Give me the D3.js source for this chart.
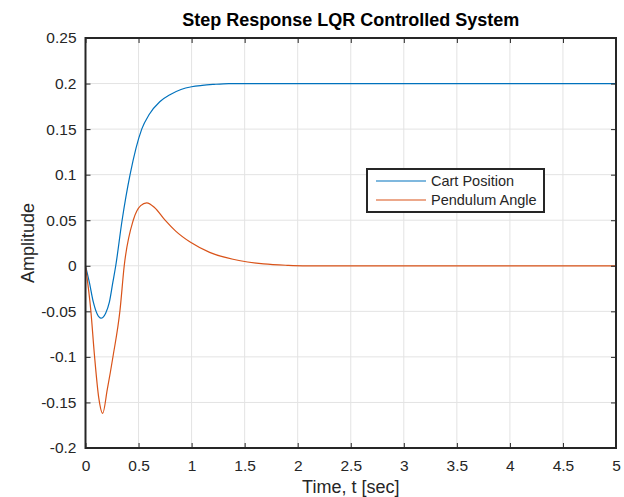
<!DOCTYPE html>
<html>
<head>
<meta charset="utf-8">
<script src="https://cdn.jsdelivr.net/npm/d3@7"></script>
<style>
  body { margin: 0; background: #fff; }
  svg { display: block; font-family: "Liberation Sans", Arial, sans-serif; }
</style>
</head>
<body>
<div id="chart"></div>
<script>
// values
const cartT = [0, 0.036, 0.074, 0.11, 0.146, 0.19, 0.225, 0.258, 0.285, 0.345, 0.42, 0.53, 0.6, 0.7, 0.8, 0.9, 1.0, 1.1, 1.2, 1.35, 5];
const cartV = [0, -0.018, -0.04, -0.053, -0.0575, -0.052, -0.04, -0.018, 0, 0.05, 0.1, 0.15, 0.166, 0.18, 0.188, 0.1935, 0.1965, 0.198, 0.199, 0.2, 0.2];
const pendT = [0, 0.05, 0.085, 0.125, 0.162, 0.205, 0.26, 0.325, 0.365, 0.45, 0.52, 0.577, 0.65, 0.75, 0.85, 0.99, 1.17, 1.46, 1.68, 1.9, 2.05, 5];
const pendV = [0, -0.049, -0.099, -0.145, -0.162, -0.136, -0.099, -0.049, 0, 0.05, 0.066, 0.069, 0.064, 0.05, 0.038, 0.0257, 0.0147, 0.0055, 0.002, 0.0005, 0, 0];
const xTicks = [0, 0.5, 1, 1.5, 2, 2.5, 3, 3.5, 4, 4.5, 5];
const yTicks = [-0.2, -0.15, -0.1, -0.05, 0, 0.05, 0.1, 0.15, 0.2, 0.25];
const seriesNames = ['Cart Position', 'Pendulum Angle'];
const seriesColors = ['#0072BD', '#D95319'];

const width = 624, height = 497;
const margin = { top: 38, right: 8, bottom: 49, left: 85.5 };

const svg = d3.select('#chart').append('svg')
  .attr('width', width)
  .attr('height', height);

const x = d3.scaleLinear().domain([0, 5]).range([margin.left, width - margin.right]);
const y = d3.scaleLinear().domain([-0.2, 0.25]).range([height - margin.bottom, margin.top]);

// grid
const grid = svg.append('g').attr('stroke', '#e3e3e3').attr('stroke-width', 1);
grid.selectAll('line.gx').data(xTicks).join('line')
  .attr('x1', (d) => x(d)).attr('x2', (d) => x(d))
  .attr('y1', y.range()[1]).attr('y2', y.range()[0]);
grid.selectAll('line.gy').data(yTicks).join('line')
  .attr('y1', (d) => y(d)).attr('y2', (d) => y(d))
  .attr('x1', x.range()[0]).attr('x2', x.range()[1]);

// series
const series = [
  cartT.map((t, i) => [t, cartV[i]]),
  pendT.map((t, i) => [t, pendV[i]])
];
const line = d3.line()
  .x((d) => x(d[0]))
  .y((d) => y(d[1]))
  .curve(d3.curveMonotoneX);

svg.append('g').selectAll('path').data(series).join('path')
  .attr('d', line)
  .attr('fill', 'none')
  .attr('stroke', (d, i) => seriesColors[i])
  .attr('stroke-width', 1.2);

// axes, ticks inward on all sides
const axisColor = '#262626';
const plotH = y.range()[0] - y.range()[1];
const plotW = x.range()[1] - x.range()[0];
const fmt = (d) => String(d);

const xAxis = svg.append('g')
  .attr('transform', `translate(0,${y.range()[0]})`)
  .call(d3.axisBottom(x).tickValues(xTicks).tickSize(-5).tickPadding(12).tickFormat(fmt));
const xAxisTop = svg.append('g')
  .attr('transform', `translate(0,${y.range()[1]})`)
  .call(d3.axisTop(x).tickValues(xTicks).tickSize(-5).tickFormat(''));
const yAxis = svg.append('g')
  .attr('transform', `translate(${x.range()[0]},0)`)
  .call(d3.axisLeft(y).tickValues(yTicks).tickSize(-5).tickPadding(9).tickFormat(fmt));
const yAxisRight = svg.append('g')
  .attr('transform', `translate(${x.range()[1]},0)`)
  .call(d3.axisRight(y).tickValues(yTicks).tickSize(-5).tickFormat(''));

[xAxis, xAxisTop, yAxis, yAxisRight].forEach((g) => {
  g.select('.domain').remove();
  g.selectAll('.tick line').attr('stroke', axisColor).attr('stroke-width', 1);
  g.selectAll('.tick text')
    .attr('fill', axisColor)
    .attr('font-size', 15.5)
    .attr('font-family', '"Liberation Sans", Arial, sans-serif');
});

svg.append('rect')
  .attr('x', x.range()[0]).attr('y', y.range()[1])
  .attr('width', plotW).attr('height', plotH)
  .attr('fill', 'none')
  .attr('stroke', axisColor)
  .attr('stroke-width', 2);

// title and labels
svg.append('text')
  .attr('x', (x.range()[0] + x.range()[1]) / 2)
  .attr('y', 26)
  .attr('text-anchor', 'middle')
  .attr('font-size', 18)
  .attr('font-weight', 'bold')
  .attr('fill', '#000')
  .text('Step Response LQR Controlled System');

svg.append('text')
  .attr('x', (x.range()[0] + x.range()[1]) / 2)
  .attr('y', 493)
  .attr('text-anchor', 'middle')
  .attr('font-size', 18)
  .attr('fill', axisColor)
  .text('Time, t [sec]');

svg.append('text')
  .attr('transform', `translate(34,${(y.range()[0] + y.range()[1]) / 2}) rotate(-90)`)
  .attr('text-anchor', 'middle')
  .attr('font-size', 18)
  .attr('fill', axisColor)
  .text('Amplitude');

// legend
const legend = svg.append('g').attr('transform', 'translate(367,169)');
legend.append('rect')
  .attr('width', 177).attr('height', 43)
  .attr('fill', '#fff')
  .attr('stroke', axisColor)
  .attr('stroke-width', 2);
const items = legend.selectAll('g.item').data(seriesNames).join('g')
  .attr('transform', (d, i) => `translate(0,${12 + i * 19})`);
items.append('line')
  .attr('x1', 9).attr('x2', 59)
  .attr('stroke', (d, i) => seriesColors[i])
  .attr('stroke-width', 1.2);
items.append('text')
  .attr('x', 64).attr('y', 0)
  .attr('dy', '0.35em')
  .attr('font-size', 14.5)
  .attr('fill', axisColor)
  .text((d) => d);
</script>
</body>
</html>
